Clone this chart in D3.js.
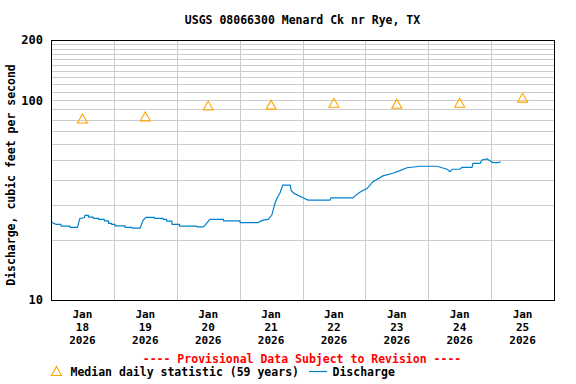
<!DOCTYPE html>
<html>
<head>
<meta charset="utf-8">
<script src="https://cdn.jsdelivr.net/npm/d3@7"></script>
<style>
  body { margin: 0; background: #fff; }
  text { font-family: "DejaVu Sans Mono", monospace; font-weight: bold; }
</style>
</head>
<body>
<svg id="chart"></svg>
<script>
const title = "USGS 08066300 Menard Ck nr Rye, TX";
const yTitle = "Discharge, cubic feet per second";

// days shown, labels sit at noon of each day
const tickDays = [18, 19, 20, 21, 22, 23, 24, 25];
const tickMonth = "Jan";
const tickYear = "2026";

// median daily statistic, one per day
const medianCfs = [81, 83, 94, 95, 97, 96, 97, 103];

// discharge: [hours since Jan 18 00:00, cfs]
const discharge = [
  [0, 24.9], [0.9, 24.2], [2.0, 23.9], [3.8, 23.9], [3.9, 23.4], [7.2, 23.4],
  [7.3, 23.1], [10.1, 23.1], [11.0, 25.6], [12.7, 25.8], [13.0, 26.5], [14.3, 26.5],
  [14.4, 26.0], [16.1, 26.0], [16.2, 25.6], [18.1, 25.6], [18.2, 25.3], [20.3, 25.3],
  [20.4, 24.9], [21.9, 24.9], [22.0, 24.2], [23.1, 24.2], [23.2, 23.9], [24.4, 23.9],
  [24.5, 23.5], [28.2, 23.5], [28.3, 23.1], [30.8, 23.1], [30.9, 22.9], [34.0, 22.9],
  [35.2, 25.1], [36.2, 25.9], [39.4, 25.9], [39.5, 25.6], [42.7, 25.6], [42.8, 25.3],
  [44.1, 25.3], [44.2, 24.8], [46.1, 24.8], [46.2, 23.9], [49.0, 23.9], [49.1, 23.4],
  [55.6, 23.4], [55.7, 23.2], [58.2, 23.2], [60.7, 25.3], [65.8, 25.3], [65.9, 24.9],
  [72.1, 24.9], [72.2, 24.4], [79.0, 24.4], [80.9, 25.1], [82.9, 25.3], [84.3, 26.6],
  [85.5, 30.5], [86.3, 32.4], [87.4, 34.3], [88.5, 37.6], [91.3, 37.6], [91.7, 35.2],
  [92.7, 34.2], [94.7, 33.2], [96.2, 32.5], [98.1, 31.6], [106.5, 31.6], [106.9, 32.4],
  [115.3, 32.4], [115.7, 32.9], [117.9, 34.6], [120.7, 36.2], [122.9, 39.1], [126.7, 41.8],
  [130.5, 43.1], [133.2, 44.4], [135.9, 45.9], [140.9, 46.7], [147.3, 46.7], [151.2, 45.1],
  [152.3, 43.9], [153.1, 45.1], [156.1, 45.1], [156.9, 46.1], [160.7, 46.1], [161.1, 48.3],
  [163.8, 48.3], [164.5, 50.2], [166.4, 50.8], [167.6, 49.8], [168.7, 48.7], [170.6, 48.7],
  [171.7, 49.2]
];

const yTickValues = [10, 100, 200];
const yGridValues = d3.range(20, 200, 10);

const width = 576, height = 384;
const margin = { top: 40, right: 22, bottom: 84, left: 51 };
const plotW = width - margin.left - margin.right;
const plotH = height - margin.top - margin.bottom;

const start = new Date(2026, 0, 18);
const atHour = h => new Date(start.getTime() + h * 3600e3);

const x = d3.scaleTime().domain([start, atHour(24 * tickDays.length)]).range([0, plotW]);
const y = d3.scaleLog().domain([10, 200]).range([plotH, 0]);

const svg = d3.select("#chart").attr("width", width).attr("height", height);

svg.append("text")
  .attr("x", margin.left + plotW / 2).attr("y", 24)
  .attr("text-anchor", "middle").attr("font-size", 11.5)
  .text(title);

const g = svg.append("g").attr("transform", `translate(${margin.left},${margin.top})`);

// grid
g.selectAll(".hgrid").data(yGridValues).enter().append("line")
  .attr("x1", 0).attr("x2", plotW)
  .attr("y1", d => Math.round(y(d)) + 0.5).attr("y2", d => Math.round(y(d)) + 0.5)
  .attr("stroke", "#cccccc");

const midnights = d3.range(1, tickDays.length).map(i => atHour(24 * i));
g.selectAll(".vgrid").data(midnights).enter().append("line")
  .attr("y1", 0).attr("y2", plotH)
  .attr("x1", d => Math.round(x(d)) + 0.5).attr("x2", d => Math.round(x(d)) + 0.5)
  .attr("stroke", "#cccccc");

// discharge line
const line = d3.line()
  .x(d => x(atHour(d[0])))
  .y(d => y(d[1]));

g.append("path").datum(discharge)
  .attr("d", line)
  .attr("fill", "none")
  .attr("stroke", "#0080cc")
  .attr("stroke-width", 1.2);

// median triangles
const tri = "M-5,4.5L5,4.5L0,-4.5Z";
g.selectAll(".median").data(medianCfs).enter().append("path")
  .attr("d", tri)
  .attr("transform", (d, i) => `translate(${x(atHour(24 * i + 12))},${y(d)})`)
  .attr("fill", "none").attr("stroke", "#ffa500").attr("stroke-width", 1.1);

// frame
g.append("rect")
  .attr("x", 0.5).attr("y", 0.5).attr("width", plotW).attr("height", plotH)
  .attr("fill", "none").attr("stroke", "#000");

// y axis labels
const yAxis = d3.axisLeft(y).tickValues(yTickValues).tickSize(0).tickPadding(8)
  .tickFormat(d3.format("d"));
g.append("g").call(yAxis)
  .call(s => s.select(".domain").remove())
  .selectAll("text")
  .attr("font-family", "DejaVu Sans Mono").attr("font-size", 12).attr("fill", "#000");

svg.append("text")
  .attr("transform", `translate(15,175) rotate(-90)`)
  .attr("text-anchor", "middle").attr("font-size", 11.5)
  .text(yTitle);

// x tick labels
const xl = g.selectAll(".xlab").data(tickDays).enter().append("text")
  .attr("text-anchor", "middle").attr("font-size", 11)
  .attr("transform", (d, i) => `translate(${x(atHour(24 * i + 12))},${plotH + 18})`);
xl.append("tspan").attr("x", 0).attr("dy", 0).text(tickMonth);
xl.append("tspan").attr("x", 0).attr("dy", 12.8).text(d => d);
xl.append("tspan").attr("x", 0).attr("dy", 12.8).text(tickYear);

// legend
svg.append("text")
  .attr("x", 302).attr("y", 363)
  .attr("text-anchor", "middle").attr("font-size", 11.5).attr("fill", "#ff0000")
  .text("---- Provisional Data Subject to Revision ----");

svg.append("path").attr("d", tri)
  .attr("transform", "translate(56.5,371)")
  .attr("fill", "none").attr("stroke", "#ffa500").attr("stroke-width", 1.1);
svg.append("text").attr("x", 70.5).attr("y", 376).attr("font-size", 11.5)
  .text("Median daily statistic (59 years)");
svg.append("line").attr("x1", 309).attr("x2", 327).attr("y1", 371.5).attr("y2", 371.5)
  .attr("stroke", "#0080cc").attr("stroke-width", 1.2);
svg.append("text").attr("x", 332.5).attr("y", 376).attr("font-size", 11.5)
  .text("Discharge");
</script>
</body>
</html>
